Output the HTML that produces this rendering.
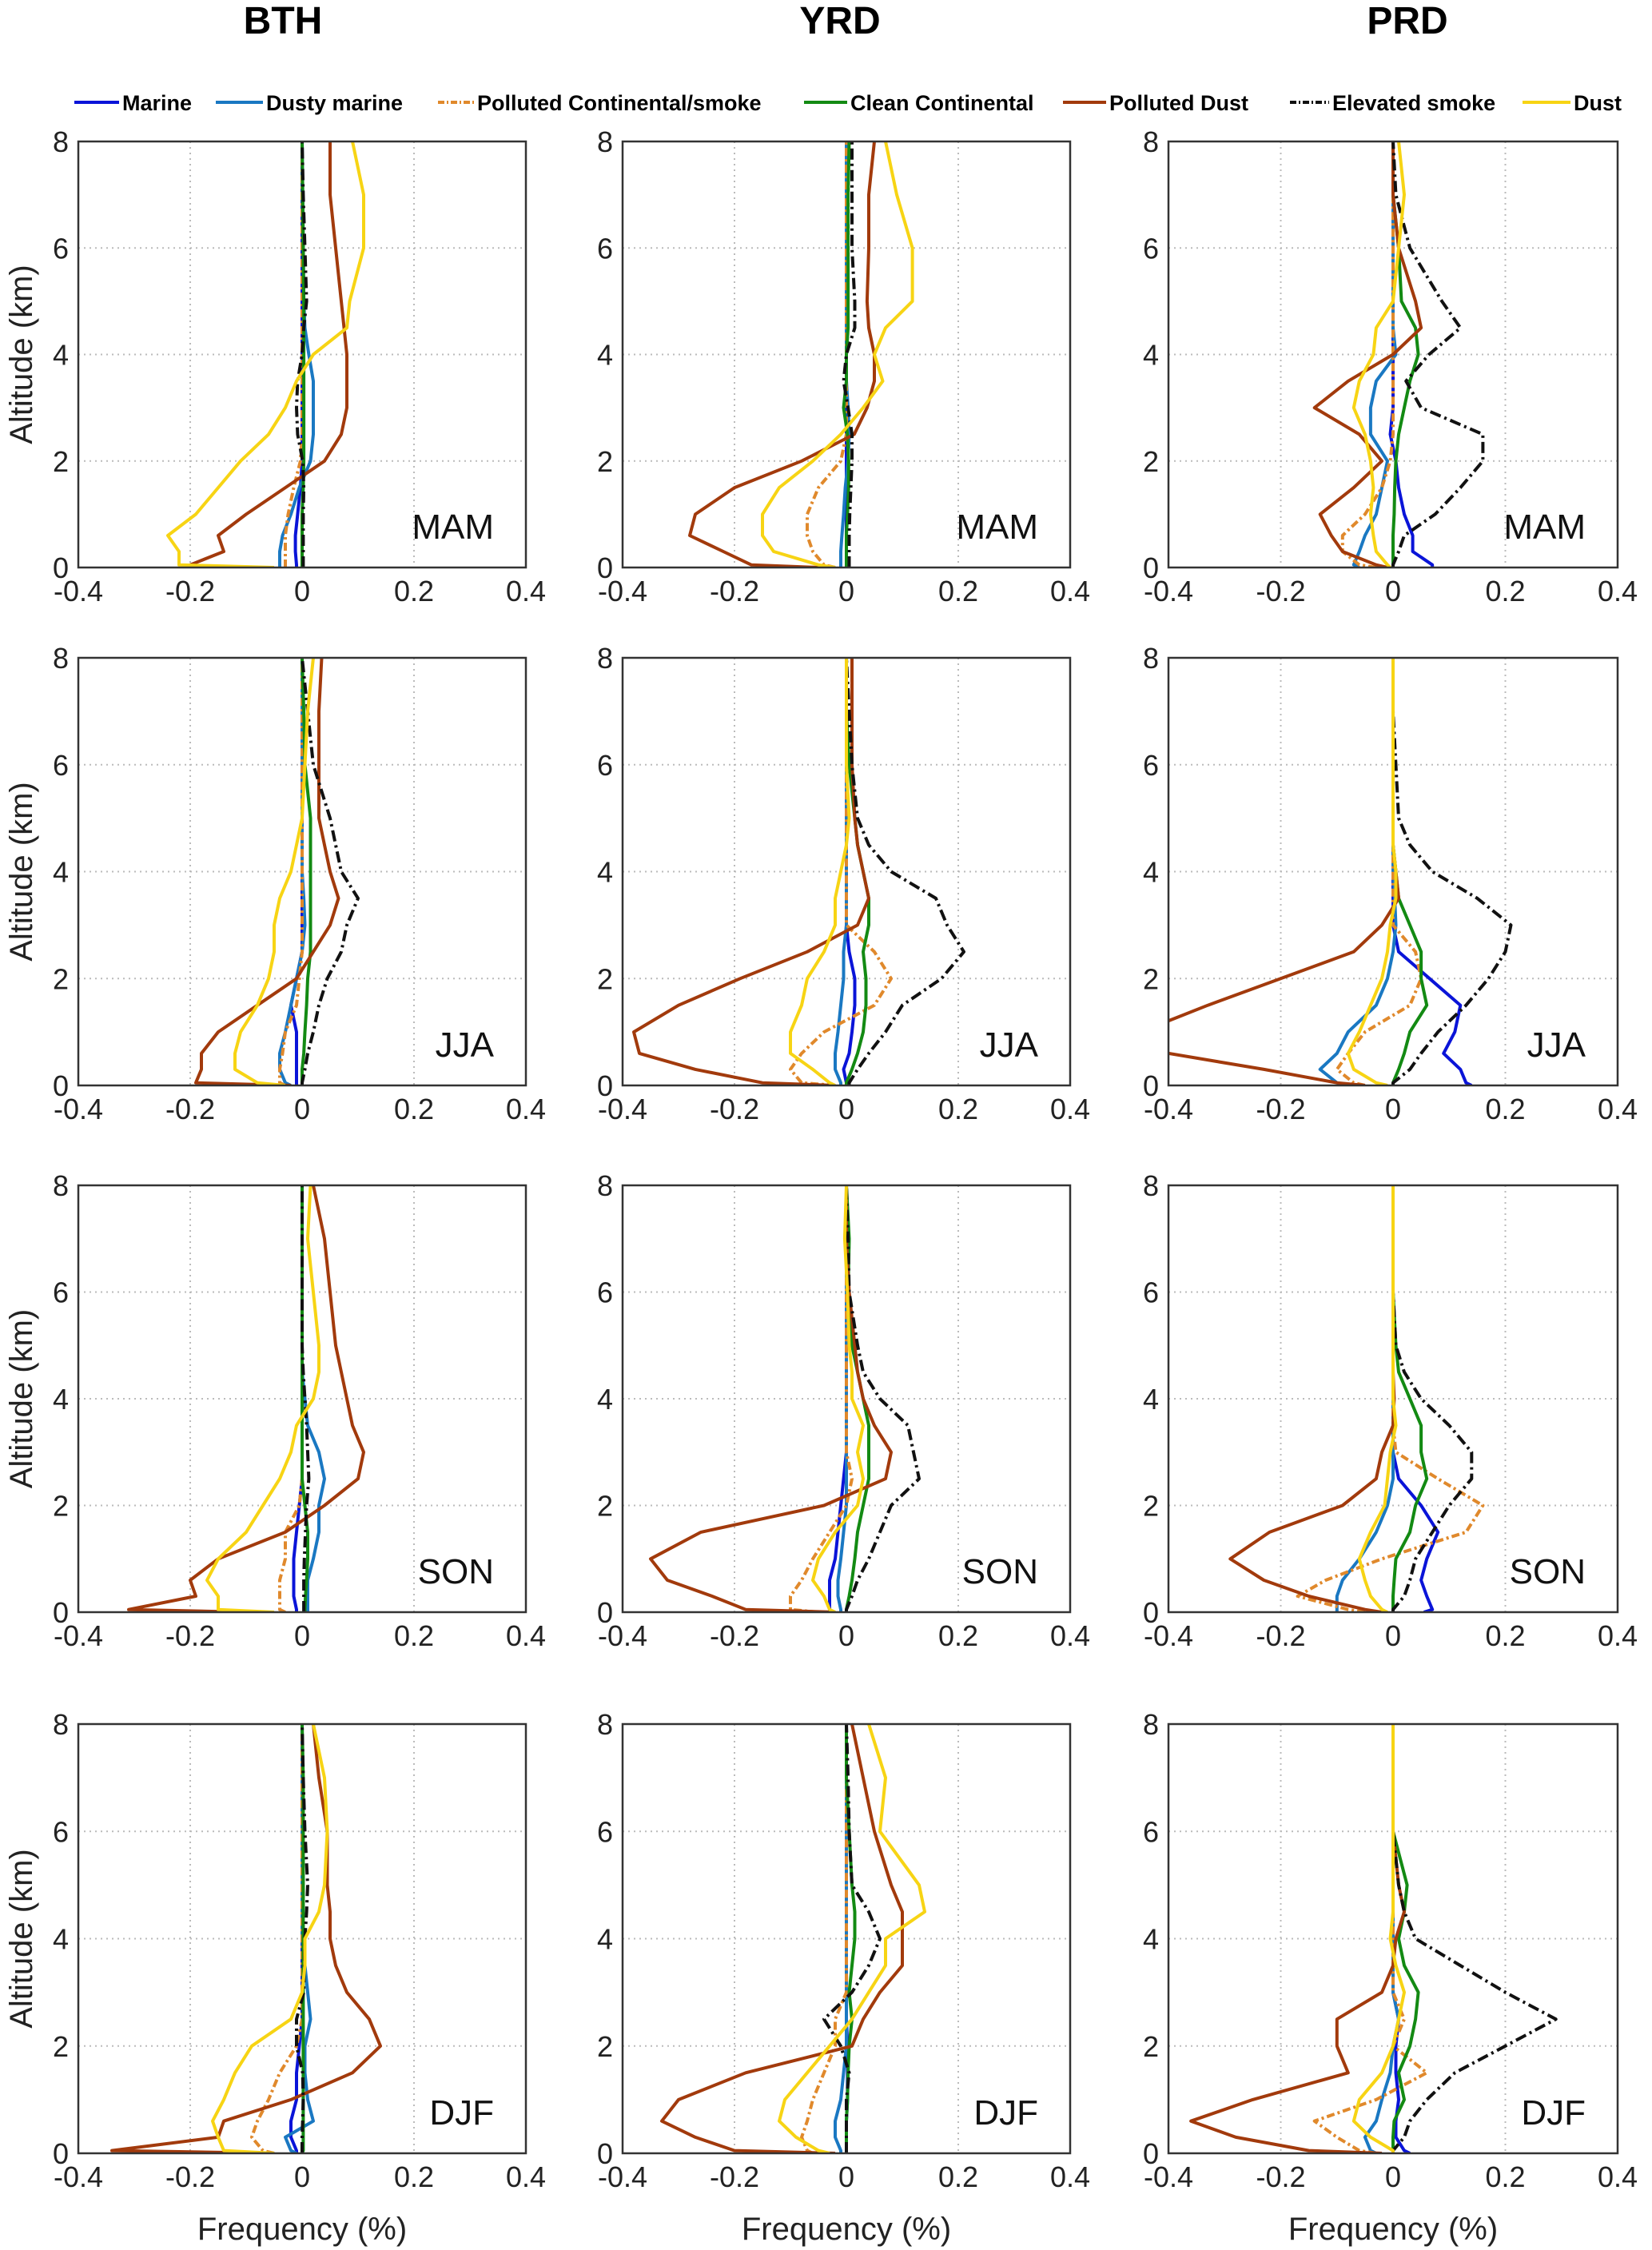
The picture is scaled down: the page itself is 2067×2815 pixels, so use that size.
<!DOCTYPE html>
<html><head><meta charset="utf-8">
<style>
html,body{margin:0;padding:0;background:#fff;}
svg{display:block;font-family:"Liberation Sans",Arial,sans-serif;}
</style></head>
<body>
<svg id="fig" width="2067" height="2815" viewBox="0 0 2067 2815" xmlns="http://www.w3.org/2000/svg">
<text x="354" y="42" text-anchor="middle" font-size="48" font-weight="bold">BTH</text>
<text x="1051" y="42" text-anchor="middle" font-size="48" font-weight="bold">YRD</text>
<text x="1761" y="42" text-anchor="middle" font-size="48" font-weight="bold">PRD</text>
<g id="legend"></g>
<g id="panels"></g>
</svg>
<script>
const altitudes = [0,0.05,0.3,0.6,1.0,1.5,2.0,2.5,3.0,3.5,4.0,4.5,5.0,6.0,7.0,8.0];
const xTicks = [-0.4,-0.2,0,0.2,0.4];
const xTickLabels = ["-0.4","-0.2","0","0.2","0.4"];
const yTicks = [0,2,4,6,8];
const regions = ["BTH","YRD","PRD"];
const seasons = ["MAM","JJA","SON","DJF"];
const seriesNames = ["Marine","Dusty marine","Polluted Continental/smoke","Clean Continental","Polluted Dust","Elevated smoke","Dust"];

// BTH MAM
const bth_mam_m  = [-0.01,-0.01,-0.012,-0.012,-0.008,-0.003,0,0,0,0,0,0,0,0,0,0];
const bth_mam_dm = [-0.04,-0.04,-0.04,-0.035,-0.02,-0.005,0.015,0.02,0.02,0.02,0.012,0.005,0.003,0.002,0.001,0];
const bth_mam_pc = [-0.03,-0.03,-0.03,-0.03,-0.025,-0.015,-0.003,0,0,0,0,0,0,0,0,0];
const bth_mam_cc = [0,0,0,0,0,0.002,0.003,0.003,0.003,0.003,0.003,0.003,0.003,0.002,0.001,0];
const bth_mam_pd = [-0.15,-0.2,-0.14,-0.15,-0.1,-0.03,0.04,0.07,0.08,0.08,0.08,0.075,0.07,0.06,0.05,0.05];
const bth_mam_es = [0.002,0.002,0.002,0.002,0.002,0.003,0.001,-0.008,-0.01,-0.008,0,0.003,0.008,0.005,0.002,0];
const bth_mam_d  = [-0.05,-0.22,-0.22,-0.24,-0.19,-0.15,-0.11,-0.06,-0.03,-0.01,0.02,0.08,0.085,0.11,0.11,0.09];
// YRD MAM
const yrd_mam_m  = [0,0,0,0,0,0,0,0,0,0,0,0,0,0,0,0];
const yrd_mam_dm = [-0.01,-0.01,-0.01,-0.008,-0.005,-0.002,0.003,0.005,0.003,0,0,0,0,0,0,0];
const yrd_mam_pc = [-0.02,-0.04,-0.06,-0.07,-0.07,-0.05,-0.01,0,0,0,0,0,0,0,0,0];
const yrd_mam_cc = [0,0,0,0,0.002,0.004,0.004,0.002,-0.005,0,0,0.003,0.003,0.003,0.003,0.005];
const yrd_mam_pd = [-0.05,-0.17,-0.22,-0.28,-0.27,-0.2,-0.08,0.014,0.037,0.05,0.05,0.04,0.037,0.04,0.04,0.05];
const yrd_mam_es = [0.005,0.005,0.005,0.005,0.006,0.008,0.01,0.01,0.003,-0.005,0,0.015,0.015,0.01,0.01,0.01];
const yrd_mam_d  = [-0.02,-0.05,-0.13,-0.15,-0.15,-0.12,-0.06,-0.01,0.03,0.065,0.05,0.07,0.118,0.118,0.09,0.07];
// PRD MAM
const prd_mam_m  = [0.07,0.07,0.035,0.035,0.02,0.01,0.005,-0.005,0,0,0,0,0,0,0,0];
const prd_mam_dm = [-0.06,-0.07,-0.06,-0.05,-0.03,-0.02,-0.01,-0.04,-0.04,-0.03,0.005,0,0,0,0,0];
const prd_mam_pc = [-0.03,-0.06,-0.09,-0.09,-0.05,-0.02,-0.005,0,0,0,0,0,0,0,0,0];
const prd_mam_cc = [0,0,0,0,0.002,0.003,0.005,0.01,0.02,0.03,0.045,0.04,0.015,0.01,0,0];
const prd_mam_pd = [-0.01,-0.03,-0.09,-0.11,-0.13,-0.07,-0.02,-0.06,-0.14,-0.08,0,0.05,0.04,0.01,0,0];
const prd_mam_es = [0,0,0.01,0.02,0.075,0.12,0.16,0.16,0.05,0.023,0.064,0.12,0.087,0.03,0.005,0];
const prd_mam_d  = [-0.005,-0.01,-0.03,-0.035,-0.04,-0.035,-0.04,-0.05,-0.07,-0.06,-0.035,-0.03,0,0.01,0.02,0.01];
// BTH JJA
const bth_jja_m  = [-0.01,-0.01,-0.01,-0.01,-0.01,-0.02,-0.01,0,0,0,0,0,0,0,0,0];
const bth_jja_dm = [-0.02,-0.03,-0.04,-0.04,-0.03,-0.02,-0.01,0,0.005,0.003,0,0,0,0,0,0];
const bth_jja_pc = [-0.03,-0.04,-0.04,-0.035,-0.03,-0.01,-0.005,0,0,0,0,0,0,0,0,0];
const bth_jja_cc = [0,0,0,0.003,0.005,0.008,0.01,0.015,0.015,0.015,0.015,0.015,0.015,0.005,0.003,0];
const bth_jja_pd = [-0.02,-0.19,-0.18,-0.18,-0.15,-0.08,-0.01,0.02,0.05,0.065,0.05,0.04,0.03,0.03,0.03,0.035];
const bth_jja_es = [0,0,0.005,0.01,0.02,0.03,0.045,0.07,0.08,0.1,0.07,0.06,0.05,0.02,0.01,0];
const bth_jja_d  = [-0.03,-0.08,-0.12,-0.12,-0.11,-0.08,-0.06,-0.05,-0.05,-0.04,-0.02,-0.01,0,0.005,0.01,0.02];
// YRD JJA
const yrd_jja_m  = [0,0,-0.005,0.005,0.01,0.015,0.015,0.005,0,0,0,0,0,0,0,0];
const yrd_jja_dm = [-0.01,-0.01,-0.02,-0.02,-0.015,-0.01,-0.005,-0.005,0,0,0,0,0,0,0,0];
const yrd_jja_pc = [-0.02,-0.08,-0.1,-0.08,-0.04,0.05,0.08,0.05,0,0,0,0,0,0,0,0];
const yrd_jja_cc = [0,0,0.01,0.02,0.03,0.035,0.035,0.03,0.04,0.04,0.03,0.02,0.015,0.005,0,0];
const yrd_jja_pd = [-0.02,-0.15,-0.27,-0.37,-0.38,-0.3,-0.19,-0.07,0.02,0.04,0.03,0.02,0.015,0.01,0.01,0.01];
const yrd_jja_es = [0.005,0.005,0.02,0.04,0.07,0.1,0.17,0.21,0.18,0.16,0.08,0.04,0.02,0.01,0.005,0];
const yrd_jja_d  = [-0.02,-0.03,-0.06,-0.1,-0.1,-0.08,-0.07,-0.04,-0.02,-0.02,-0.01,0,0.005,0,0,0];
// PRD JJA
const prd_jja_m  = [0.14,0.13,0.12,0.09,0.11,0.12,0.065,0.01,0,0,0,0,0,0,0,0];
const prd_jja_dm = [-0.09,-0.1,-0.13,-0.1,-0.08,-0.03,-0.01,0,0.005,0.003,0,0,0,0,0,0];
const prd_jja_pc = [-0.05,-0.07,-0.1,-0.08,-0.05,0.03,0.05,0.04,0,0,0,0,0,0,0,0];
const prd_jja_cc = [0,0,0.01,0.02,0.03,0.06,0.05,0.05,0.03,0.01,0.005,0,0,0,0,0];
const prd_jja_pd = [-0.05,-0.1,-0.23,-0.4,-0.45,-0.33,-0.2,-0.07,-0.02,0.01,0.005,0,0,0,0,0];
const prd_jja_es = [0,0,0.03,0.05,0.08,0.13,0.17,0.2,0.21,0.15,0.07,0.03,0.01,0.005,0,0];
const prd_jja_d  = [-0.01,-0.03,-0.07,-0.08,-0.06,-0.04,-0.02,-0.01,-0.005,0.005,0.005,0,0,0,0,0];
// BTH SON
const bth_son_m  = [-0.01,-0.01,-0.015,-0.015,-0.015,-0.01,-0.005,0,0,0,0,0,0,0,0,0];
const bth_son_dm = [0.01,0.01,0.01,0.01,0.02,0.03,0.03,0.04,0.03,0.01,0.005,0,0,0,0,0];
const bth_son_pc = [-0.03,-0.04,-0.04,-0.04,-0.03,-0.03,-0.005,0,0,0,0,0,0,0,0,0];
const bth_son_cc = [0.005,0.005,0.006,0.008,0.01,0.01,0.005,0,0,0,0,0,0,0,0,0];
const bth_son_pd = [-0.1,-0.31,-0.19,-0.2,-0.15,-0.03,0.04,0.1,0.11,0.09,0.08,0.07,0.06,0.05,0.04,0.02];
const bth_son_es = [0.003,0.003,0.003,0.003,0.004,0.006,0.008,0.012,0.01,0.008,0.005,0.002,0,0,0,0];
const bth_son_d  = [-0.05,-0.15,-0.15,-0.17,-0.15,-0.1,-0.07,-0.04,-0.02,-0.01,0.02,0.03,0.03,0.02,0.01,0.015];
// YRD SON
const yrd_son_m  = [-0.03,-0.03,-0.03,-0.03,-0.02,-0.015,-0.01,-0.005,0,0,0,0,0,0,0,0];
const yrd_son_dm = [-0.01,-0.01,-0.015,-0.015,-0.01,-0.005,0,0,0,0,0,0,0,0,0,0];
const yrd_son_pc = [-0.05,-0.1,-0.1,-0.08,-0.06,-0.03,0,0.01,0,0,0,0,0,0,0,0];
const yrd_son_cc = [0,0,0.005,0.01,0.015,0.02,0.03,0.04,0.04,0.04,0.03,0.02,0.01,0.003,0.005,0];
const yrd_son_pd = [-0.02,-0.18,-0.24,-0.32,-0.35,-0.26,-0.04,0.07,0.08,0.05,0.03,0.02,0.015,0.005,0,0];
const yrd_son_es = [0,0,0.01,0.02,0.04,0.06,0.08,0.13,0.12,0.11,0.06,0.03,0.02,0.005,0.003,0];
const yrd_son_d  = [-0.02,-0.03,-0.04,-0.06,-0.05,-0.02,0.02,0.03,0.02,0.03,0.01,0.01,0.005,0.002,-0.003,0];
// PRD SON
const prd_son_m  = [0.055,0.07,0.06,0.05,0.06,0.08,0.05,0.01,0,0,0,0,0,0,0,0];
const prd_son_dm = [-0.1,-0.1,-0.1,-0.09,-0.06,-0.03,-0.01,0,0,0,0,0,0,0,0,0];
const prd_son_pc = [-0.05,-0.08,-0.17,-0.12,-0.02,0.13,0.16,0.08,0.005,0,0,0,0,0,0,0];
const prd_son_cc = [0,0,0,0.002,0.005,0.03,0.04,0.06,0.05,0.05,0.03,0.01,0.005,0,0,0];
const prd_son_pd = [-0.02,-0.05,-0.15,-0.23,-0.29,-0.22,-0.09,-0.03,-0.02,0,0.002,0,0,0,0,0];
const prd_son_es = [0,0,0.02,0.03,0.04,0.07,0.1,0.14,0.14,0.1,0.05,0.02,0.005,0,0,0];
const prd_son_d  = [-0.01,-0.02,-0.04,-0.05,-0.06,-0.04,-0.015,-0.01,-0.005,0.005,0,0,0,0,0,0];
// BTH DJF
const bth_djf_m  = [-0.01,-0.01,-0.02,-0.02,-0.01,-0.01,-0.005,0,0,0,0,0,0,0,0,0];
const bth_djf_dm = [-0.01,-0.02,-0.03,0.02,0.01,0.005,0.005,0.015,0.01,0.005,0,0,0,0,0,0];
const bth_djf_pc = [-0.05,-0.07,-0.09,-0.08,-0.06,-0.04,-0.01,0,0,0,0,0,0,0,0,0];
const bth_djf_cc = [0,0.002,0.002,0.002,0.002,0.002,0.002,0.002,0.002,0.002,0.002,0.002,0.002,0.002,0.002,0];
const bth_djf_pd = [-0.05,-0.34,-0.15,-0.14,-0.02,0.09,0.14,0.12,0.08,0.06,0.05,0.05,0.045,0.045,0.03,0.02];
const bth_djf_es = [0,0,0,0.001,0.002,0.001,-0.01,-0.01,0.003,0.004,0.005,0.008,0.01,0.005,0.002,0];
const bth_djf_d  = [-0.05,-0.14,-0.15,-0.16,-0.14,-0.12,-0.09,-0.02,0,0.005,0.005,0.03,0.04,0.045,0.04,0.02];
// YRD DJF
const yrd_djf_m  = [0,0,0,0,0.002,0.002,0.002,0,0,0,0,0,0,0,0,0];
const yrd_djf_dm = [-0.01,-0.01,-0.02,-0.02,-0.01,-0.005,0,0,0,0,0,0,0,0,0,0];
const yrd_djf_pc = [-0.06,-0.07,-0.08,-0.07,-0.06,-0.04,-0.02,-0.02,0,0,0,0,0,0,0,0];
const yrd_djf_cc = [0,0,0,0,0.002,0.003,0.005,0.01,0.005,0.01,0.015,0.015,0.01,0.005,0,0];
const yrd_djf_pd = [-0.02,-0.2,-0.27,-0.33,-0.3,-0.18,0.01,0.03,0.06,0.1,0.1,0.1,0.08,0.05,0.03,0.01];
const yrd_djf_es = [0,0,0,0,0,0.005,-0.01,-0.04,0.01,0.04,0.06,0.04,0.01,0.005,0.003,0];
const yrd_djf_d  = [-0.03,-0.05,-0.09,-0.12,-0.11,-0.07,-0.03,0.01,0.04,0.07,0.07,0.14,0.13,0.06,0.07,0.04];
// PRD DJF
const prd_djf_m  = [0.03,0.02,0.005,0.005,0.01,0.005,0.005,0.01,0,0,0,0,0,0,0,0];
const prd_djf_dm = [-0.03,-0.04,-0.05,-0.03,-0.02,-0.005,0,0.01,0,0,0,0,0,0,0,0];
const prd_djf_pc = [-0.03,-0.06,-0.1,-0.14,-0.03,0.06,0,0.02,0,0,0,0,0,0,0,0];
const prd_djf_cc = [0,0,0,0.002,0.02,0.01,0.03,0.04,0.045,0.02,0.01,0.02,0.025,0,0,0];
const prd_djf_pd = [-0.02,-0.15,-0.28,-0.36,-0.25,-0.08,-0.1,-0.1,-0.02,0,0.005,0.02,0.01,0,0,0];
const prd_djf_es = [0,0,0.02,0.03,0.06,0.11,0.2,0.29,0.2,0.12,0.04,0.02,0.01,0,0,0];
const prd_djf_d  = [0,0,-0.04,-0.07,-0.06,-0.02,0,0.01,0.02,0.005,-0.005,0,0,0,0,0];

const panelSeries = [
 [[bth_mam_m,bth_mam_dm,bth_mam_pc,bth_mam_cc,bth_mam_pd,bth_mam_es,bth_mam_d],
  [yrd_mam_m,yrd_mam_dm,yrd_mam_pc,yrd_mam_cc,yrd_mam_pd,yrd_mam_es,yrd_mam_d],
  [prd_mam_m,prd_mam_dm,prd_mam_pc,prd_mam_cc,prd_mam_pd,prd_mam_es,prd_mam_d]],
 [[bth_jja_m,bth_jja_dm,bth_jja_pc,bth_jja_cc,bth_jja_pd,bth_jja_es,bth_jja_d],
  [yrd_jja_m,yrd_jja_dm,yrd_jja_pc,yrd_jja_cc,yrd_jja_pd,yrd_jja_es,yrd_jja_d],
  [prd_jja_m,prd_jja_dm,prd_jja_pc,prd_jja_cc,prd_jja_pd,prd_jja_es,prd_jja_d]],
 [[bth_son_m,bth_son_dm,bth_son_pc,bth_son_cc,bth_son_pd,bth_son_es,bth_son_d],
  [yrd_son_m,yrd_son_dm,yrd_son_pc,yrd_son_cc,yrd_son_pd,yrd_son_es,yrd_son_d],
  [prd_son_m,prd_son_dm,prd_son_pc,prd_son_cc,prd_son_pd,prd_son_es,prd_son_d]],
 [[bth_djf_m,bth_djf_dm,bth_djf_pc,bth_djf_cc,bth_djf_pd,bth_djf_es,bth_djf_d],
  [yrd_djf_m,yrd_djf_dm,yrd_djf_pc,yrd_djf_cc,yrd_djf_pd,yrd_djf_es,yrd_djf_d],
  [prd_djf_m,prd_djf_dm,prd_djf_pc,prd_djf_cc,prd_djf_pd,prd_djf_es,prd_djf_d]]
];

const NS = "http://www.w3.org/2000/svg";
const colors = ["#0a14d8","#1a78c2","#e0892c","#138a13","#a23a0c","#111111","#f7d414"];
const dashes = [null,null,"10 4 3 4",null,null,"14 5 3 5",null];
const colsX = [[98,658],[779,1339],[1462,2024]];
const rowsY = [[177,710],[823,1358],[1483,2017],[2157,2694]];

function mk(tag, attrs, parent){
  const e = document.createElementNS(NS, tag);
  for (const k in attrs) e.setAttribute(k, attrs[k]);
  parent.appendChild(e);
  return e;
}

// legend
const leg = document.getElementById('legend');
const legLineX = [93,270,548,1006,1330,1614,1905];
const legLineW = [56,59,45,54,54,49,60];
for (let i=0;i<7;i++){
  const ln = mk('line',{x1:legLineX[i],x2:legLineX[i]+legLineW[i],y1:128,y2:128,stroke:colors[i],'stroke-width':4},leg);
  
  
  if (dashes[i]) ln.setAttribute('stroke-dasharray','8 3 2 3');
  const t = mk('text',{x:legLineX[i]+legLineW[i]+4,y:138,'font-size':27,'font-weight':'bold'},leg);
  t.textContent = seriesNames[i];
  
  
}

const root = document.getElementById('panels');
for (let r=0;r<4;r++){
  for (let c=0;c<3;c++){
    const [x0,x1] = colsX[c], [y0,y1] = rowsY[r];
    const xs = v => x0 + (v+0.4)/0.8*(x1-x0);
    const ys = h => y1 - h/8*(y1-y0);
    const g = mk('g',{},root);
    
    
    const cid = 'clip'+r+c;
    const cp = mk('clipPath',{id:cid},g);
    mk('rect',{x:x0,y:y0,width:x1-x0,height:y1-y0},cp);
    // grid
    for (const v of [-0.2,0.2]){
      const gl = mk('line',{x1:xs(v),x2:xs(v),y1:y0,y2:y1,stroke:'#bbb','stroke-width':2,'stroke-dasharray':'2 5'},g);
      
      
    }
    for (const h of [2,4,6]){
      const gl = mk('line',{x1:x0,x2:x1,y1:ys(h),y2:ys(h),stroke:'#bbb','stroke-width':2,'stroke-dasharray':'2 5'},g);
      
      
    }
    // series
    const sg = mk('g',{'clip-path':'url(#'+cid+')'},g);
    const order = [0,1,2,3,4,5,6];
    for (const i of order){
      const vals = panelSeries[r][c][i];
      const pts = vals.map((v,k)=>xs(v).toFixed(1)+','+ys(altitudes[k]).toFixed(1)).join(' ');
      const pl = mk('polyline',{points:pts,fill:'none',stroke:colors[i],'stroke-width':4,'stroke-linejoin':'round'},sg);
      if (dashes[i]) pl.setAttribute('stroke-dasharray',dashes[i]);
      
      
    }
    // frame
    const fr = mk('rect',{x:x0,y:y0,width:x1-x0,height:y1-y0,fill:'none',stroke:'#333','stroke-width':2.5},g);
    
    
    // ticks
    for (let k=0;k<xTicks.length;k++){
      const t = mk('text',{x:xs(xTicks[k]),y:y1+42,'text-anchor':'middle','font-size':36,fill:'#222'},g);
      t.textContent = xTickLabels[k];
      
      
    }
    for (const h of yTicks){
      const t = mk('text',{x:x0-12,y:ys(h)+13,'text-anchor':'end','font-size':36,fill:'#222'},g);
      t.textContent = String(h);
      
      
    }
    const sl = mk('text',{x:x1-40,y:y1-36,'text-anchor':'end','font-size':44,fill:'#111'},g);
    sl.textContent = seasons[r];
    
    
    if (c===0){
      const yt = mk('text',{x:0,y:0,'text-anchor':'middle','font-size':40,fill:'#222',transform:'translate(40,'+((y0+y1)/2)+') rotate(-90)'},g);
      yt.textContent = 'Altitude (km)';
      
      
    }
    if (r===3){
      const xt = mk('text',{x:(x0+x1)/2,y:2802,'text-anchor':'middle','font-size':40,fill:'#222'},g);
      xt.textContent = 'Frequency (%)';
      
      
    }
  }
}
</script>
</body></html>
